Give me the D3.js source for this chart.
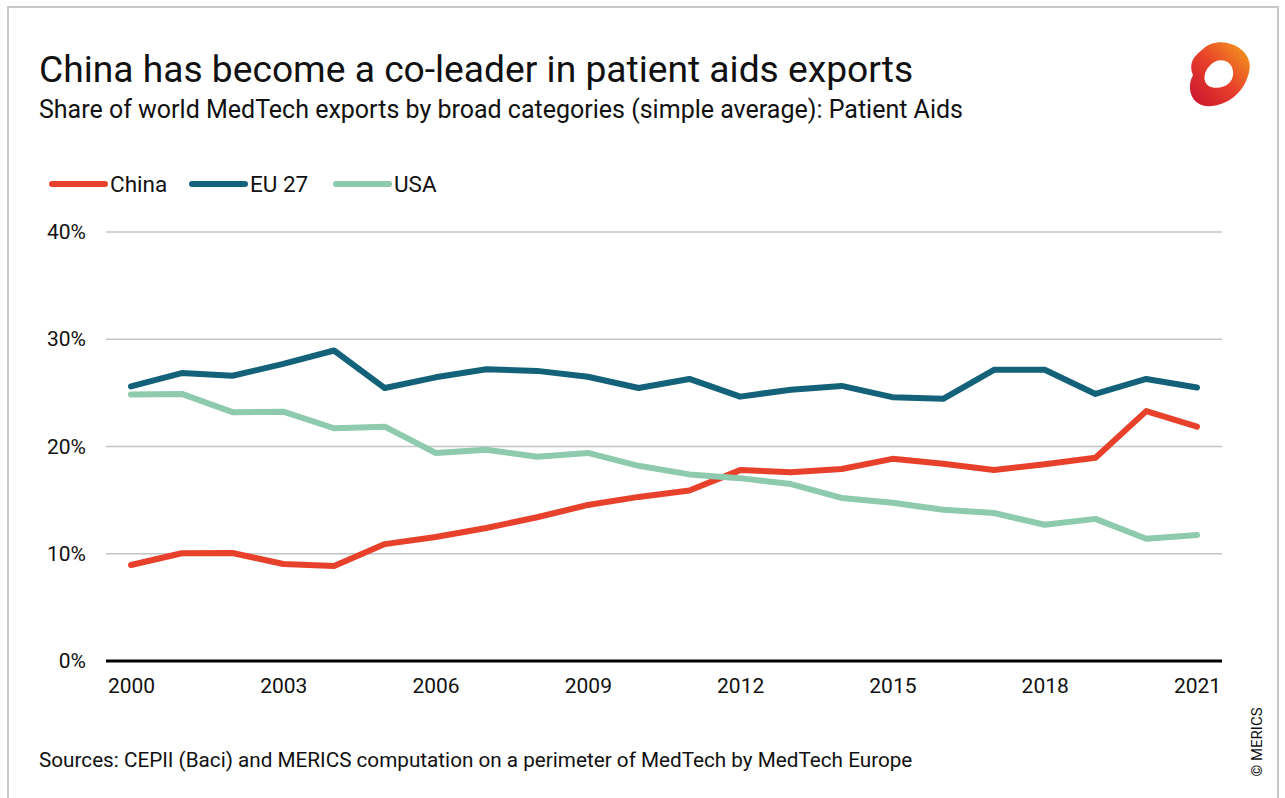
<!DOCTYPE html>
<html>
<head>
<meta charset="utf-8">
<title>Patient aids exports</title>
<script src="https://d3js.org/d3.v7.min.js"></script>
<style>
  body { margin: 0; background: #fff; }
  text { font-family: Roboto, "Noto Sans", sans-serif; fill: #111; }
</style>
</head>
<body>
<script>
// data (share of world exports, %)
var years = d3.range(2000, 2022);
var china = [8.95, 10.05, 10.07, 9.04, 8.86, 10.9, 11.56, 12.4, 13.4, 14.55, 15.3, 15.9, 17.8, 17.6, 17.9, 18.85, 18.4, 17.8, 18.35, 18.95, 23.3, 21.85];
var eu27  = [25.6, 26.85, 26.6, 27.7, 28.95, 25.45, 26.45, 27.2, 27.05, 26.5, 25.45, 26.3, 24.65, 25.3, 25.65, 24.6, 24.45, 27.15, 27.15, 24.9, 26.3, 25.5];
var usa   = [24.85, 24.9, 23.2, 23.25, 21.7, 21.85, 19.4, 19.7, 19.05, 19.4, 18.2, 17.4, 17.05, 16.5, 15.2, 14.75, 14.1, 13.8, 12.7, 13.25, 11.4, 11.75];
var yTicks = [0, 10, 20, 30, 40];
var xTicks = [2000, 2003, 2006, 2009, 2012, 2015, 2018, 2021];

var series = [
  {name: "China", values: china, color: "#e8412b"},
  {name: "EU 27", values: eu27, color: "#13627a"},
  {name: "USA", values: usa, color: "#8ecaae"}
];

var width = 1285, height = 798;
var svg = d3.select("body").append("svg")
  .attr("width", width)
  .attr("height", height);

// frame
svg.append("rect")
  .attr("x", 8).attr("y", 7)
  .attr("width", 1270).attr("height", 800)
  .attr("fill", "none").attr("stroke", "#c8c8c8").attr("stroke-width", 2);

svg.append("text").attr("x", 39).attr("y", 82)
  .style("font-size", "37.2px")
  .text("China has become a co-leader in patient aids exports");
svg.append("text").attr("x", 39).attr("y", 118)
  .style("font-size", "25px")
  .text("Share of world MedTech exports by broad categories (simple average): Patient Aids");

// logo
var logo = svg.append("g").attr("transform", "translate(1219,73) scale(1.18)");
var grad = svg.append("defs").append("linearGradient").attr("id", "lg")
  .attr("x1", "0%").attr("y1", "100%").attr("x2", "100%").attr("y2", "0%");
grad.append("stop").attr("offset", "0%").attr("stop-color", "#c8102e");
grad.append("stop").attr("offset", "50%").attr("stop-color", "#e8412b");
grad.append("stop").attr("offset", "100%").attr("stop-color", "#f5a31a");
logo.append("path")
  .attr("d", "M-14,-20 C0,-34 28,-22 26,-4 C24,12 12,26 -6,28 C-24,30 -28,12 -22,2 C-26,-8 -22,-14 -14,-20 Z M-8,-6 C-2,-14 12,-12 12,0 C12,10 2,14 -6,12 C-14,10 -14,0 -8,-6 Z")
  .attr("fill", "url(#lg)").attr("fill-rule", "evenodd");

var margin = {left: 106, right: 1222, top: 232, bottom: 661};
var x = d3.scaleLinear().domain([2000, 2021]).range([131, 1197]);
var y = d3.scaleLinear().domain([0, 40]).range([margin.bottom, margin.top]);

// grid
svg.append("g").selectAll("line")
  .data(yTicks.filter(function(d) { return d > 0; }))
  .enter().append("line")
  .attr("x1", margin.left).attr("x2", margin.right)
  .attr("y1", function(d) { return y(d); }).attr("y2", function(d) { return y(d); })
  .attr("stroke", "#c4c4c4").attr("stroke-width", 1.5);

var yAxis = svg.append("g")
  .attr("transform", "translate(" + margin.left + ",0)")
  .call(d3.axisLeft(y).tickValues(yTicks).tickSize(0).tickPadding(20).tickFormat(function(d) { return d + "%"; }));
yAxis.select(".domain").remove();
yAxis.selectAll("text").style("font-size", "21px").attr("fill", "#111").attr("font-family", null);

var xAxis = svg.append("g")
  .attr("transform", "translate(0," + margin.bottom + ")")
  .call(d3.axisBottom(x).tickValues(xTicks).tickSize(0).tickPadding(17).tickFormat(d3.format("d")));
xAxis.select(".domain").remove();
xAxis.selectAll("text").style("font-size", "21px").attr("fill", "#111").attr("font-family", null);

// zero line
svg.append("line")
  .attr("x1", margin.left).attr("x2", margin.right)
  .attr("y1", y(0)).attr("y2", y(0))
  .attr("stroke", "#000").attr("stroke-width", 3);

var line = d3.line()
  .x(function(d, i) { return x(years[i]); })
  .y(function(d) { return y(d); });

svg.append("g").selectAll("path")
  .data(series)
  .enter().append("path")
  .attr("d", function(d) { return line(d.values); })
  .attr("fill", "none")
  .attr("stroke", function(d) { return d.color; })
  .attr("stroke-width", 6)
  .attr("stroke-linecap", "round")
  .attr("stroke-linejoin", "round");

// legend
var legX = [52, 192, 336];
var leg = svg.append("g").selectAll("g")
  .data(series)
  .enter().append("g")
  .attr("transform", function(d, i) { return "translate(" + legX[i] + ",184)"; });
leg.append("line").attr("x1", 0).attr("x2", 53)
  .attr("stroke", function(d) { return d.color; })
  .attr("stroke-width", 6).attr("stroke-linecap", "round");
leg.append("text").attr("x", 58).attr("dy", "0.35em")
  .style("font-size", "22.5px")
  .text(function(d) { return d.name; });

svg.append("text").attr("x", 39).attr("y", 767)
  .style("font-size", "20.7px")
  .text("Sources: CEPII (Baci) and MERICS computation on a perimeter of MedTech by MedTech Europe");

svg.append("text")
  .attr("transform", "translate(1262,742) rotate(-90)")
  .attr("text-anchor", "middle")
  .style("font-size", "15px")
  .text("© MERICS");
</script>
</body>
</html>
